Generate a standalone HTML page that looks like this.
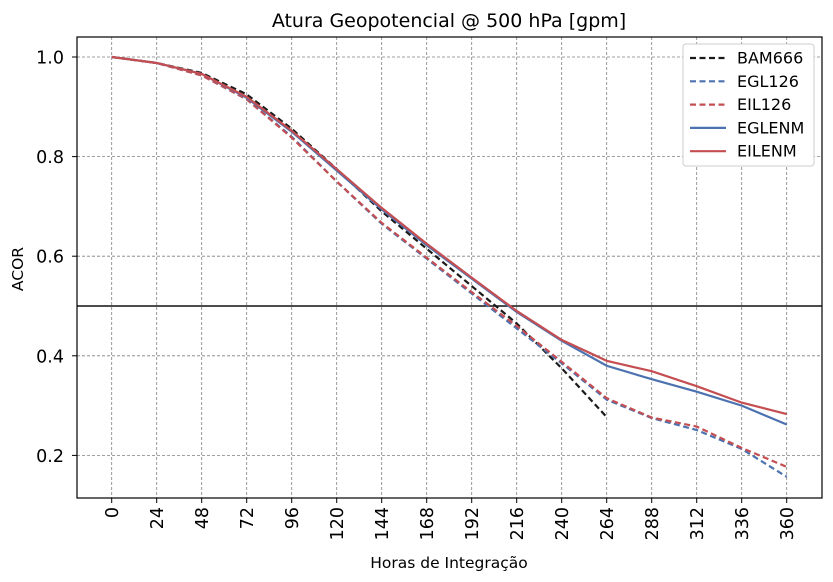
<!DOCTYPE html>
<html><head><meta charset="utf-8"><style>body{margin:0;background:#fff}svg{display:block;font-family:"DejaVu Sans","Liberation Sans",sans-serif}</style></head>
<body>
<svg id="chart" width="833" height="582"></svg>
<script>
const hours=[0,24,48,72,96,120,144,168,192,216,240,264,288,312,336,360];
const bam666=[1.0,0.988,0.968,0.925,0.856,0.775,0.69,0.615,0.54,0.465,0.375,0.277];
const egl126=[1.0,0.988,0.963,0.915,0.84,0.75,0.665,0.595,0.525,0.455,0.385,0.312,0.275,0.251,0.213,0.157];
const eil126=[1.0,0.988,0.963,0.915,0.838,0.75,0.667,0.597,0.528,0.46,0.388,0.315,0.276,0.258,0.215,0.177];
const eglenm=[1.0,0.988,0.966,0.918,0.85,0.772,0.694,0.622,0.555,0.488,0.43,0.38,0.353,0.328,0.30,0.262];
const eilenm=[1.0,0.988,0.966,0.92,0.852,0.775,0.697,0.625,0.557,0.49,0.432,0.39,0.369,0.339,0.306,0.283];
const yTicks=[0.2,0.4,0.6,0.8,1.0];
const L=77,R=822,T=37,B=498;
const xs=h=>111.7+h*45/24;
const ys=v=>555-v*498;
const NS="http://www.w3.org/2000/svg";
const svg=document.getElementById('chart');
function mk(tag,attrs,parent){const e=document.createElementNS(NS,tag);for(const k in attrs)e.setAttribute(k,attrs[k]);(parent||svg).appendChild(e);return e;}
const grid=mk('g',{});


hours.forEach(h=>{const l=mk('line',{x1:xs(h),x2:xs(h),y1:T,y2:B,stroke:'#808080','stroke-width':0.8,'stroke-dasharray':'3,2'},grid);

});
yTicks.forEach(v=>{const l=mk('line',{x1:L,x2:R,y1:ys(v),y2:ys(v),stroke:'#808080','stroke-width':0.8,'stroke-dasharray':'3,2'},grid);

});
const ref=mk('line',{x1:L,x2:R,y1:ys(0.5),y2:ys(0.5),stroke:'#111','stroke-width':1.5});


const series=[
 {name:'BAM666',d:bam666,c:'#1a1a1a',dash:'6,3.5'},
 {name:'EGL126',d:egl126,c:'#4c72b0',dash:'6,3.5'},
 {name:'EIL126',d:eil126,c:'#c44e52',dash:'6,3.5'},
 {name:'EGLENM',d:eglenm,c:'#4c72b0',dash:''},
 {name:'EILENM',d:eilenm,c:'#c44e52',dash:''}];
series.forEach(s=>{const p=mk('polyline',{points:s.d.map((v,i)=>xs(hours[i])+','+ys(v)).join(' '),fill:'none',stroke:s.c,'stroke-width':2.2,'stroke-dasharray':s.dash});

});
const frame=mk('rect',{x:L,y:T,width:R-L,height:B-T,fill:'none',stroke:'#000','stroke-width':1.2});


hours.forEach(h=>{mk('line',{x1:xs(h),x2:xs(h),y1:B,y2:B+5,stroke:'#000'});
const t=mk('text',{transform:`translate(${xs(h)+6.5},${B+9}) rotate(-90)`,'text-anchor':'end','font-size':17.5});t.textContent=h;

});
yTicks.forEach(v=>{mk('line',{x1:L-5,x2:L,y1:ys(v),y2:ys(v),stroke:'#000'});
const t=mk('text',{x:L-13,y:ys(v)+6.5,'text-anchor':'end','font-size':17.5});t.textContent=v.toFixed(1);

});
let t=mk('text',{x:449,y:27,'text-anchor':'middle','font-size':19});t.textContent='Atura Geopotencial @ 500 hPa [gpm]';


t=mk('text',{x:449,y:568,'text-anchor':'middle','font-size':15.5});t.textContent='Horas de Integração';


t=mk('text',{transform:'translate(23,269) rotate(-90)','text-anchor':'middle','font-size':15.5});t.textContent='ACOR';


const lg=mk('g',{});


mk('rect',{x:683,y:44,width:131,height:122,rx:3,fill:'#fff',stroke:'#ccc'},lg);
series.forEach((s,i)=>{const y=58+i*23.3;
const e=mk('g',{},lg);


mk('line',{x1:690,x2:726,y1:y,y2:y,stroke:s.c,'stroke-width':2.2,'stroke-dasharray':s.dash},e);
const tx=mk('text',{x:737,y:y+5.5,'font-size':16},e);tx.textContent=s.name;});
</script>
</body></html>
